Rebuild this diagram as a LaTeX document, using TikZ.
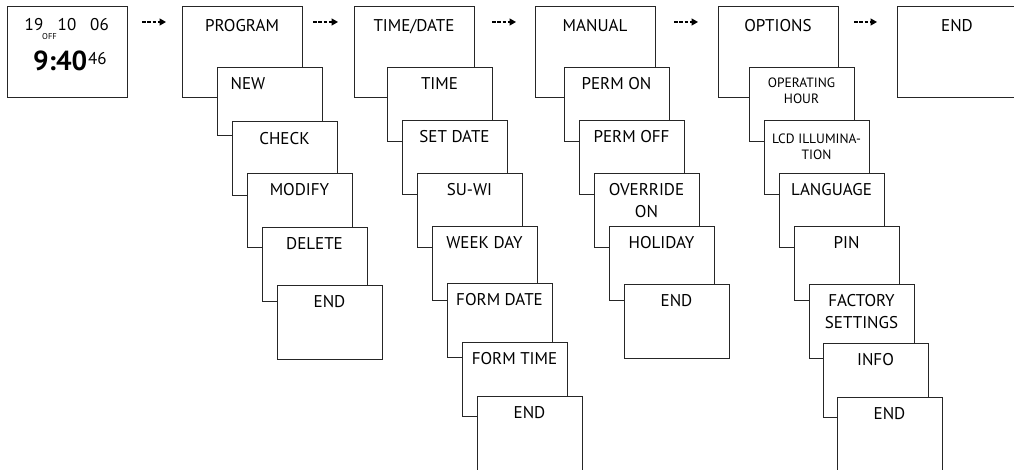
\documentclass[tikz,border=0pt]{standalone}
\usepackage{fontspec}
\setmainfont{PT Sans}
\usetikzlibrary{arrows.meta}
\begin{document}
\begin{tikzpicture}[x=1pt,y=-1pt,
  frame/.style={draw=black!85, line width=0.9pt, fill=white, anchor=north west, inner sep=0pt, outer sep=0pt},
  mbox/.style={frame, minimum width=120pt, minimum height=91pt},
  sbox/.style={frame, minimum width=105pt, minimum height=74pt},
  lbl/.style={anchor=north, inner sep=0pt, align=center, text=black, font=\fontsize{17}{22}\selectfont},
  slbl/.style={lbl, font=\fontsize{13.5}{16}\selectfont},
  dig/.style={anchor=base, inner sep=0pt, text=black, font=\fontsize{17}{20}\selectfont},
  flow/.style={draw=black, line width=1.4pt, dash pattern=on 3.5pt off 1.8pt, -{Triangle[length=6.5pt,width=7pt]}}]
\useasboundingbox (0,0) rectangle (1014,470);
\clip (0,0) rectangle (1014,470);

% display
\node[mbox] (d) at (7,6) {};
\node[dig] (d19) at (34,31) {19};
\node[dig] (d10) at (67,31) {10};
\node[dig] (d06) at (99.5,31) {06};
\node[dig, font=\fontsize{8.5}{10}\selectfont] (doff) at (49.5,40) {OFF};
\node[dig, anchor=base east, font=\fontsize{27.5}{30}\selectfont\bfseries] (dtime) at (87.5,71) {9:40};
\node[dig, anchor=base west] (dsec) at (88,65) {46};

% PROGRAM column
\node[mbox] (p0) at (182,6) {};
\node[lbl] at ([yshift=-13pt]p0.north) {PROGRAM};
\node[sbox, minimum height=68pt] (p1) at (217,67) {};
\node[lbl] at ([xshift=-21.5pt,yshift=-10pt]p1.north) {NEW};
\node[sbox] (p2) at (232,121) {};
\node[lbl] at ([yshift=-11pt]p2.north) {CHECK};
\node[sbox] (p3) at (247,173) {};
\node[lbl] at ([yshift=-10pt]p3.north) {MODIFY};
\node[sbox] (p4) at (262,227) {};
\node[lbl] at ([yshift=-10pt]p4.north) {DELETE};
\node[sbox] (p5) at (277,285) {};
\node[lbl] at ([yshift=-10pt]p5.north) {END};

% TIME/DATE column
\node[mbox] (t0) at (354,6) {};
\node[lbl] at ([yshift=-13pt]t0.north) {TIME/DATE};
\node[sbox] (t1) at (387,67) {};
\node[lbl] at ([yshift=-10pt]t1.north) {TIME};
\node[sbox] (t2) at (402,120) {};
\node[lbl] at ([yshift=-10pt]t2.north) {SET DATE};
\node[sbox] (t3) at (417,173) {};
\node[lbl] at ([yshift=-10pt]t3.north) {SU-WI};
\node[sbox] (t4) at (432,226) {};
\node[lbl] at ([yshift=-10pt]t4.north) {WEEK DAY};
\node[sbox] (t5) at (447,283) {};
\node[lbl] at ([yshift=-10pt]t5.north) {FORM DATE};
\node[sbox] (t6) at (462,342) {};
\node[lbl] at ([yshift=-10pt]t6.north) {FORM TIME};
\node[sbox, minimum height=100pt] (t7) at (477,396) {};
\node[lbl] at ([yshift=-10pt]t7.north) {END};

% MANUAL column
\node[mbox] (m0) at (535,6) {};
\node[lbl] at ([yshift=-13pt]m0.north) {MANUAL};
\node[sbox] (m1) at (564,67) {};
\node[lbl] at ([yshift=-10pt]m1.north) {PERM ON};
\node[sbox] (m2) at (579,120) {};
\node[lbl] at ([yshift=-10pt]m2.north) {PERM OFF};
\node[sbox] (m3) at (594,173) {};
\node[lbl] at ([yshift=-10pt]m3.north) {OVERRIDE\\ON};
\node[sbox] (m4) at (609,226) {};
\node[lbl] at ([yshift=-10pt]m4.north) {HOLIDAY};
\node[sbox] (m5) at (624,284) {};
\node[lbl] at ([yshift=-10pt]m5.north) {END};

% OPTIONS column
\node[mbox] (o0) at (718,6) {};
\node[lbl] at ([yshift=-13pt]o0.north) {OPTIONS};
\node[sbox] (o1) at (749,67) {};
\node[slbl] at ([yshift=-11pt]o1.north) {OPERATING\\HOUR};
\node[sbox] (o2) at (764,120) {};
\node[slbl] at ([yshift=-13.5pt]o2.north) {LCD ILLUMINA-\\TION};
\node[sbox] (o3) at (779,173) {};
\node[lbl] at ([yshift=-10pt]o3.north) {LANGUAGE};
\node[sbox] (o4) at (794,226) {};
\node[lbl] at ([yshift=-10pt]o4.north) {PIN};
\node[sbox] (o5) at (809,284) {};
\node[lbl] at ([yshift=-10pt]o5.north) {FACTORY\\SETTINGS};
\node[sbox] (o6) at (823,343) {};
\node[lbl] at ([yshift=-10pt]o6.north) {INFO};
\node[sbox, minimum height=100pt] (o7) at (837,397) {};
\node[lbl] at ([yshift=-10pt]o7.north) {END};

% END column
\node[mbox] (e0) at (897,6) {};
\node[lbl] at ([yshift=-13pt]e0.north) {END};

% flow arrows
\draw[flow, shorten <=15pt, shorten >=16pt] ([yshift=-16pt]d.north east) -- ([yshift=-16pt]p0.north west);
\draw[flow, shorten <=11pt, shorten >=16pt] ([yshift=-16pt]p0.north east) -- ([yshift=-16pt]t0.north west);
\draw[flow, shorten <=18pt, shorten >=19pt] ([yshift=-16pt]t0.north east) -- ([yshift=-16pt]m0.north west);
\draw[flow, shorten <=19pt, shorten >=20pt] ([yshift=-16pt]m0.north east) -- ([yshift=-16pt]o0.north west);
\draw[flow, shorten <=16pt, shorten >=20pt] ([yshift=-16pt]o0.north east) -- ([yshift=-16pt]e0.north west);
\end{tikzpicture}
\end{document}
